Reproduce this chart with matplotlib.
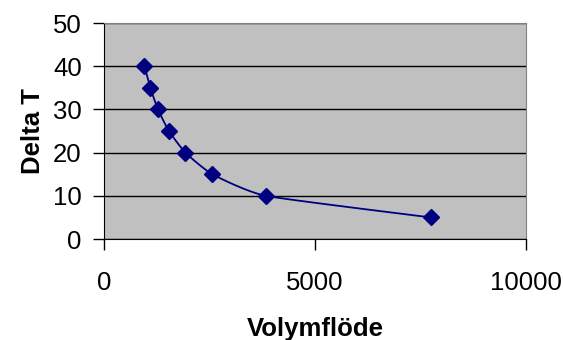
import numpy as np
import matplotlib.pyplot as plt

plt.rcParams['font.family'] = ['Liberation Sans', 'DejaVu Sans']

# data
volymflode = [960, 1100, 1280, 1540, 1930, 2570, 3840, 7750]
delta_t = [40, 35, 30, 25, 20, 15, 10, 5]
xticks = [0, 5000, 10000]
yticks = [0, 10, 20, 30, 40, 50]


def smooth(xs, ys, k=1 / 12, n=30):
    # cubic bezier through the points, softer than plain Catmull-Rom
    p = np.column_stack([xs, ys]).astype(float)
    p = np.vstack([p[0], p, p[-1]])
    out = []
    t = np.linspace(0, 1, n)[:, None]
    for i in range(1, len(p) - 2):
        p0, p1, p2, p3 = p[i - 1], p[i], p[i + 1], p[i + 2]
        c1 = p1 + (p2 - p0) * k
        c2 = p2 - (p3 - p1) * k
        seg = ((1 - t) ** 3 * p1 + 3 * (1 - t) ** 2 * t * c1
               + 3 * (1 - t) * t ** 2 * c2 + t ** 3 * p2)
        out.append(seg)
    out = np.vstack(out)
    return out[:, 0], out[:, 1]


fig = plt.figure(figsize=(5.63, 3.40), dpi=100)
ax = fig.add_axes([0.1847, 0.297, 0.749, 0.635])
ax.set_facecolor('#c0c0c0')

sx, sy = smooth(volymflode, delta_t)
ax.plot(sx, sy, color='#000080', lw=1.3, zorder=3)
ax.plot(volymflode, delta_t, 'D', color='#000080', markersize=8.5, zorder=4)

ax.set_xlim(0, 10000)
ax.set_ylim(0, 50)
ax.set_xticks(xticks)
ax.set_yticks(yticks)
ax.grid(axis='y', color='black', lw=1)
ax.set_axisbelow(True)

for s in ['top', 'right']:
    ax.spines[s].set_color('#808080')
ax.spines['left'].set_color('black')
ax.spines['bottom'].set_color('black')

ax.tick_params(axis='both', direction='out', length=8, width=1, labelsize=18.5)
ax.tick_params(axis='x', pad=15)
ax.tick_params(axis='y', pad=8)

ax.set_xlabel('Volymflöde', fontsize=18.5, fontweight='bold', labelpad=16)
ax.set_ylabel('Delta T', fontsize=18.5, fontweight='bold', labelpad=6)

fig.savefig('out.png', dpi=100)
